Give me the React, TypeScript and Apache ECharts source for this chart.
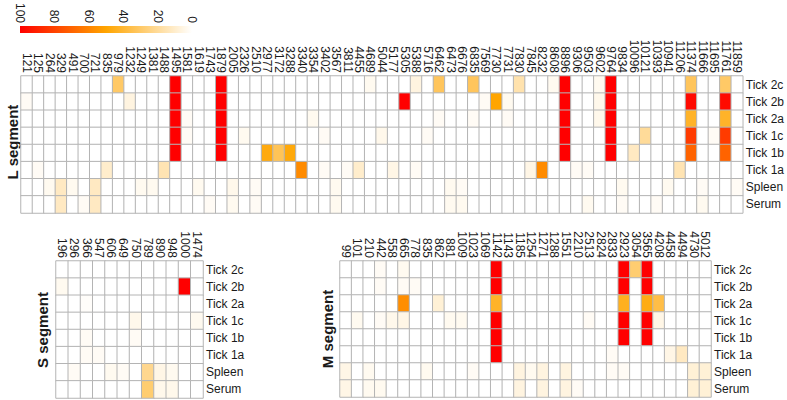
import React, { useEffect, useRef } from "react";
import * as echarts from "echarts";

const ROWS = ["Tick 2c", "Tick 2b", "Tick 2a", "Tick 1c", "Tick 1b", "Tick 1a", "Spleen", "Serum"];
const LEGEND_TICKS = [0, 20, 40, 60, 80, 100];

// ---------------- L segment ----------------
const L_COLS = [
  "121", "125", "264", "329", "491", "700", "721", "835", "979", "1232",
  "1249", "1381", "1488", "1495", "1581", "1619", "1743", "1879", "2005", "2326",
  "2510", "2977", "3172", "3288", "3340", "3354", "3402", "3567", "3811", "4455",
  "4689", "5044", "5177", "5305", "5388", "5716", "6462", "6473", "6676", "6835",
  "7569", "7730", "7731", "7830", "7845", "8232", "8608", "8896", "9306", "9503",
  "9602", "9764", "9834", "10096", "10121", "10393", "10941", "11206", "11374", "11666",
  "11695", "11761", "11859",
];
const L_TICK_2C = [
  0, 0, 0, 0, 0, 0, 0, 0, 30, 0,
  0, 0, 0, 100, 0, 0, 0, 100, 0, 0,
  0, 0, 0, 0, 0, 0, 0, 0, 0, 0,
  3, 0, 0, 0, 6, 0, 32, 0, 0, 32,
  0, 0, 0, 16, 0, 0, 3, 100, 0, 0,
  3, 100, 0, 0, 0, 0, 0, 0, 32, 0,
  0, 30, 0,
];
const L_TICK_2B = [
  2, 0, 0, 0, 0, 0, 0, 0, 0, 6,
  0, 0, 0, 100, 0, 0, 0, 100, 0, 0,
  0, 0, 0, 0, 0, 0, 0, 0, 0, 0,
  0, 0, 0, 100, 0, 0, 0, 0, 0, 0,
  2, 50, 3, 0, 0, 0, 0, 100, 0, 0,
  4, 100, 0, 0, 0, 0, 0, 0, 97, 0,
  0, 97, 0,
];
const L_TICK_2A = [
  0, 0, 0, 0, 0, 0, 0, 0, 0, 0,
  0, 0, 0, 100, 2, 0, 0, 100, 0, 0,
  0, 0, 0, 0, 0, 3, 0, 0, 0, 0,
  0, 0, 0, 0, 0, 0, 2, 0, 0, 2,
  0, 0, 2, 0, 0, 0, 0, 100, 0, 0,
  4, 100, 0, 0, 0, 0, 0, 0, 42, 0,
  0, 42, 0,
];
const L_TICK_1C = [
  0, 0, 0, 0, 0, 0, 0, 0, 0, 0,
  0, 0, 0, 100, 2, 0, 0, 100, 0, 3,
  0, 0, 0, 0, 0, 0, 2, 0, 0, 0,
  0, 4, 0, 0, 0, 2, 0, 0, 0, 0,
  0, 0, 0, 0, 0, 0, 0, 100, 0, 0,
  0, 100, 0, 0, 20, 0, 0, 0, 82, 0,
  2, 82, 0,
];
const L_TICK_1B = [
  0, 0, 0, 0, 0, 0, 0, 0, 0, 0,
  0, 0, 0, 100, 0, 0, 0, 100, 0, 0,
  0, 47, 33, 48, 0, 0, 0, 0, 0, 0,
  0, 0, 0, 0, 0, 0, 0, 0, 0, 0,
  0, 0, 0, 0, 0, 0, 0, 100, 0, 0,
  0, 100, 0, 12, 0, 0, 0, 0, 70, 0,
  0, 70, 0,
];
const L_TICK_1A = [
  0, 2, 0, 0, 0, 0, 0, 10, 0, 0,
  0, 0, 15, 0, 0, 0, 0, 0, 0, 0,
  0, 0, 0, 0, 58, 0, 2, 0, 2, 10,
  0, 0, 5, 0, 2, 0, 0, 0, 0, 0,
  0, 0, 0, 0, 5, 58, 0, 0, 2, 2,
  0, 0, 0, 0, 0, 0, 0, 15, 0, 0,
  0, 0, 0,
];
const L_SPLEEN = [
  0, 0, 3, 12, 3, 0, 12, 0, 0, 0,
  3, 3, 0, 0, 0, 3, 0, 0, 4, 0,
  2, 0, 0, 0, 0, 0, 0, 3, 0, 0,
  0, 0, 0, 0, 0, 0, 0, 3, 2, 0,
  0, 0, 0, 0, 0, 0, 0, 0, 0, 0,
  0, 0, 3, 0, 0, 0, 3, 0, 0, 2,
  0, 0, 2,
];
const L_SERUM = [
  0, 0, 0, 12, 0, 2, 12, 0, 0, 0,
  0, 0, 0, 0, 0, 0, 2, 0, 3, 0,
  2, 0, 0, 0, 0, 0, 0, 3, 0, 0,
  0, 0, 0, 0, 0, 0, 0, 3, 3, 0,
  0, 0, 0, 0, 0, 0, 0, 0, 0, 3,
  0, 0, 2, 0, 0, 2, 0, 0, 0, 3,
  0, 0, 0,
];

// ---------------- S segment ----------------
const S_COLS = ["196", "296", "366", "547", "606", "649", "750", "789", "890", "948", "1000", "1474"];
const S_TICK_2C = [0, 0, 0, 0, 0, 0, 0, 0, 0, 0, 0, 0];
const S_TICK_2B = [3, 0, 0, 0, 0, 0, 0, 0, 0, 0, 100, 0];
const S_TICK_2A = [0, 0, 1, 0, 0, 0, 0, 0, 0, 0, 0, 0];
const S_TICK_1C = [0, 0, 0, 0, 0, 0, 4, 0, 0, 0, 0, 3];
const S_TICK_1B = [0, 0, 2, 0, 0, 0, 2, 0, 0, 0, 0, 0];
const S_TICK_1A = [0, 0, 2, 2, 0, 0, 0, 0, 0, 0, 0, 0];
const S_SPLEEN = [0, 2, 0, 0, 3, 2, 0, 22, 5, 3, 0, 0];
const S_SERUM = [0, 0, 0, 0, 0, 0, 0, 28, 4, 4, 0, 0];

// ---------------- M segment ----------------
const M_COLS = [
  "99", "101", "210", "442", "558", "665", "778", "835", "862", "881",
  "1009", "1023", "1069", "1142", "1143", "1185", "1254", "1271", "1288", "1551",
  "2210", "2513", "2824", "2833", "2923", "3054", "3565", "4208", "4458", "4494",
  "4730", "5012",
];
const M_TICK_2C = [
  0, 0, 0, 2, 0, 3, 0, 0, 0, 0,
  0, 0, 0, 100, 0, 0, 0, 0, 0, 0,
  0, 0, 0, 0, 100, 28, 100, 0, 0, 0,
  0, 0,
];
const M_TICK_2B = [
  0, 0, 0, 2, 0, 2, 2, 0, 0, 0,
  0, 0, 0, 100, 0, 0, 0, 0, 0, 0,
  0, 0, 0, 0, 100, 0, 100, 0, 0, 0,
  0, 0,
];
const M_TICK_2A = [
  0, 0, 0, 0, 0, 57, 0, 0, 8, 0,
  0, 0, 0, 42, 0, 0, 0, 0, 0, 0,
  0, 0, 0, 0, 44, 0, 46, 36, 0, 0,
  0, 0,
];
const M_TICK_1C = [
  0, 3, 0, 2, 4, 5, 0, 0, 0, 3,
  3, 0, 0, 100, 0, 0, 0, 0, 0, 0,
  0, 2, 0, 0, 100, 0, 100, 5, 0, 0,
  0, 0,
];
const M_TICK_1B = [
  0, 0, 0, 0, 0, 0, 0, 0, 0, 0,
  0, 0, 0, 100, 0, 0, 0, 0, 0, 0,
  0, 0, 0, 0, 100, 0, 100, 0, 0, 0,
  0, 0,
];
const M_TICK_1A = [
  0, 0, 0, 0, 0, 0, 0, 0, 0, 0,
  0, 0, 0, 100, 0, 0, 0, 0, 0, 0,
  0, 0, 0, 2, 0, 0, 0, 0, 5, 12,
  0, 0,
];
const M_SPLEEN = [
  5, 0, 3, 0, 0, 0, 0, 3, 0, 0,
  0, 2, 0, 0, 0, 6, 3, 6, 0, 6,
  0, 0, 0, 2, 2, 0, 0, 0, 0, 0,
  8, 8,
];
const M_SERUM = [
  5, 0, 3, 3, 0, 0, 0, 0, 0, 0,
  0, 0, 0, 0, 0, 6, 0, 6, 0, 6,
  2, 0, 0, 0, 0, 0, 0, 0, 0, 0,
  8, 8,
];

const L_ROWS = [L_TICK_2C, L_TICK_2B, L_TICK_2A, L_TICK_1C, L_TICK_1B, L_TICK_1A, L_SPLEEN, L_SERUM];
const S_ROWS = [S_TICK_2C, S_TICK_2B, S_TICK_2A, S_TICK_1C, S_TICK_1B, S_TICK_1A, S_SPLEEN, S_SERUM];
const M_ROWS = [M_TICK_2C, M_TICK_2B, M_TICK_2A, M_TICK_1C, M_TICK_1B, M_TICK_1A, M_SPLEEN, M_SERUM];

const FONT = "'Liberation Sans', Arial, sans-serif";
const TEXT = "#1a1a1a";
const COLORS = ["#FFFFFF", "#FFA500", "#FF0000"];

function toCells(rows: number[][]) {
  const out: number[][] = [];
  rows.forEach((row, y) => row.forEach((v, x) => out.push([x, y, v])));
  return out;
}

function xAxisFor(cols: string[], gridIndex: number) {
  return {
    type: "category",
    gridIndex,
    data: cols,
    position: "top",
    axisLine: { show: false },
    axisTick: { show: false },
    splitLine: { show: false },
    axisLabel: { rotate: 90, interval: 0, margin: 3, fontSize: 12, color: TEXT, fontFamily: FONT },
  };
}

function yAxisFor(gridIndex: number) {
  return {
    type: "category",
    gridIndex,
    data: ROWS,
    inverse: true,
    position: "right",
    axisLine: { show: false },
    axisTick: { show: false },
    splitLine: { show: false },
    axisLabel: { interval: 0, margin: 3, fontSize: 12, color: TEXT, fontFamily: FONT },
  };
}

function heat(rows: number[][], idx: number) {
  return {
    type: "heatmap",
    xAxisIndex: idx,
    yAxisIndex: idx,
    data: toCells(rows),
    itemStyle: { borderColor: "#b4b4b4", borderWidth: 1 },
    emphasis: { disabled: true },
    silent: true,
  };
}

export default function App() {
  const ref = useRef<HTMLDivElement>(null);
  useEffect(() => {
    if (!ref.current) return;
    const chart = echarts.init(ref.current, null, { renderer: "svg" });
    const option: any = {
      animation: false,
      backgroundColor: "#ffffff",
      textStyle: { fontFamily: FONT },
      grid: [
        { left: 21, top: 76, width: 725, height: 137 },
        { left: 56, top: 261, width: 147, height: 137 },
        { left: 340, top: 261, width: 371, height: 136 },
        { left: 20, top: 21, width: 172, height: 12 },
      ],
      xAxis: [
        xAxisFor(L_COLS, 0),
        xAxisFor(S_COLS, 1),
        xAxisFor(M_COLS, 2),
        {
          type: "value",
          gridIndex: 3,
          min: 0,
          max: 100,
          interval: 20,
          inverse: true,
          position: "top",
          axisLine: { show: false },
          axisTick: { show: false },
          splitLine: { show: false },
          axisLabel: { rotate: 90, margin: 3, fontSize: 12, color: TEXT, fontFamily: FONT },
          data: LEGEND_TICKS,
        },
      ],
      yAxis: [
        yAxisFor(0),
        yAxisFor(1),
        yAxisFor(2),
        { type: "category", gridIndex: 3, data: ["scale"], show: false },
      ],
      visualMap: {
        type: "continuous",
        min: 0,
        max: 100,
        show: false,
        seriesIndex: [0, 1, 2],
        inRange: { color: COLORS },
      },
      series: [
        heat(L_ROWS, 0),
        heat(S_ROWS, 1),
        heat(M_ROWS, 2),
        {
          type: "bar",
          xAxisIndex: 3,
          yAxisIndex: 3,
          data: [LEGEND_TICKS[LEGEND_TICKS.length - 1]],
          barWidth: "100%",
          silent: true,
          itemStyle: {
            color: new echarts.graphic.LinearGradient(0, 0, 1, 0, [
              { offset: 0, color: COLORS[2] },
              { offset: 0.5, color: COLORS[1] },
              { offset: 1, color: COLORS[0] },
            ]),
          },
        },
      ],
      graphic: [
        {
          type: "text",
          x: 12,
          y: 142,
          rotation: Math.PI / 2,
          style: { text: "L segment", fontSize: 15, fontWeight: "bold", fill: TEXT, font: `bold 15px ${FONT}`, textAlign: "center", textVerticalAlign: "middle" },
        },
        {
          type: "text",
          x: 42,
          y: 330,
          rotation: Math.PI / 2,
          style: { text: "S segment", fontSize: 15, fontWeight: "bold", fill: TEXT, font: `bold 15px ${FONT}`, textAlign: "center", textVerticalAlign: "middle" },
        },
        {
          type: "text",
          x: 327,
          y: 329,
          rotation: Math.PI / 2,
          style: { text: "M segment", fontSize: 15, fontWeight: "bold", fill: TEXT, font: `bold 15px ${FONT}`, textAlign: "center", textVerticalAlign: "middle" },
        },
      ],
    };
    chart.setOption(option);
    return () => chart.dispose();
  }, []);
  return <div ref={ref} style={{ position: "absolute", left: 0, top: 0, width: 787, height: 400 }} />;
}
